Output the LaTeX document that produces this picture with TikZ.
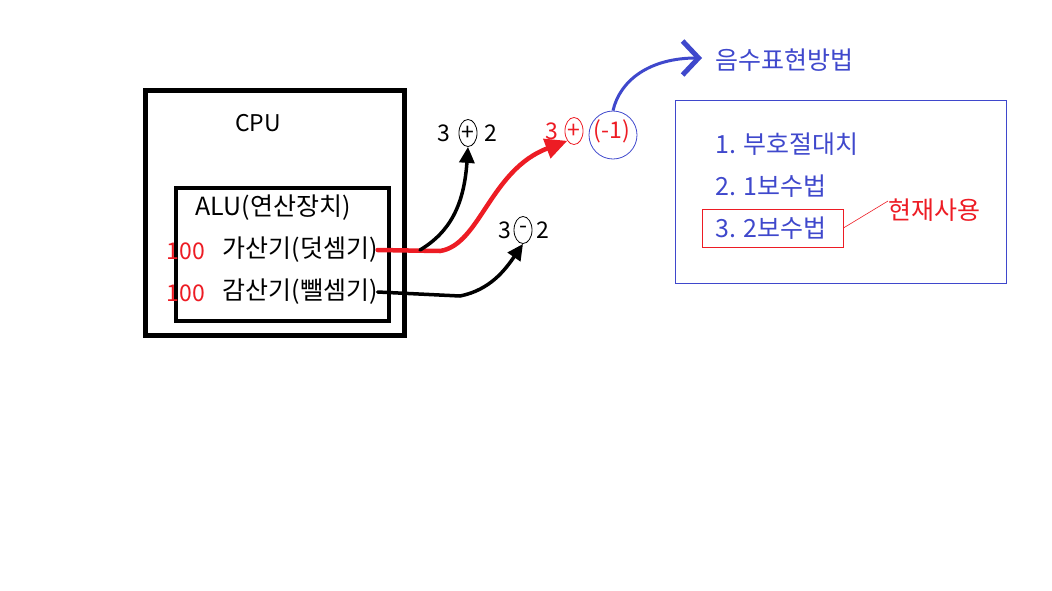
\documentclass[tikz,border=0pt]{standalone}
\usepackage{fontspec}
\setmainfont{Noto Sans CJK KR}
\usetikzlibrary{arrows.meta,shapes.geometric,positioning}
\definecolor{pred}{RGB}{237,28,36}
\definecolor{pblue}{RGB}{63,72,204}

\begin{document}
\begin{tikzpicture}[x=1pt,y=-1pt,
        txt/.style={font=\fontsize{23}{26}\selectfont, inner sep=0pt},
        kor/.style={font=\fontsize{25}{28}\selectfont, inner sep=0pt},
        opring/.style={draw, ellipse, minimum width=18pt, minimum height=27pt, inner sep=0pt, line width=0.8pt},
        hand/.style={line width=3.5pt, line cap=round, -{Triangle[length=16pt,width=15pt]}}]
        \useasboundingbox (0,0) rectangle (1052,590);
        % CPU and ALU
        \draw[line width=5pt] (145,90) rectangle (404,335);
        \draw[line width=4pt] (176,188) rectangle (389,321);
        \node[txt] (cpu) at (258,123) {CPU};
        \node[kor] (alu) at (273,208) {ALU(연산장치)};
        \node[txt, text=pred] (hundA) at (186,251) {100};
        \node[kor] (adder) at (300,250) {가산기(덧셈기)};
        \node[txt, text=pred] (hundB) at (186,293) {100};
        \node[kor] (suber) at (300,292) {감산기(뺄셈기)};
        % 3 + 2
        \node[txt] (threeA) at (444,133) {3};
        \node[txt, opring] (plusA) at (468,133) {+};
        \node[txt] (twoA) at (491,133) {2};
        % 3 - 2
        \node[txt] (threeB) at (505,230) {3};
        \node[txt, opring] (minus) at (523,230) {-};
        \node[txt] (twoB) at (543,230) {2};
        % 3 + (-1)
        \node[txt, text=pred] (threeC) at (552,131) {3};
        \node[txt, opring, draw=pred, text=pred] (plusC) at (574,131) {+};
        \node[txt, text=pred] (negone) at (612,131) {(-1)};
        \node[draw=pblue, circle, minimum size=48pt, line width=0.8pt] (ring) at (613,135) {};
        % negative numbers
        \node[kor, text=pblue, anchor=west] (title) at (715,60) {음수표현방법};
        \draw[pblue, line width=0.8pt] (675,100) rectangle (1006,283);
        \node[kor, text=pblue, anchor=west] (way1) at (715,144) {1. 부호절대치};
        \node[kor, text=pblue, anchor=west] (way2) at (715,186) {2. 1보수법};
        \node[kor, text=pblue, anchor=west] (way3) at (715,228) {3. 2보수법};
        \node[draw=pred, minimum width=141pt, minimum height=38pt, line width=0.8pt] (pick) at (772.5,228) {};
        \node[kor, text=pred, anchor=west] (inuse) at (888,210) {현재사용};
        \draw[pred, line width=0.6pt] (pick.east) -- ([yshift=9pt]inuse.west);
        % connectors
        \coordinate (fork) at (420,250);
        \draw[pred, line width=4.5pt, line cap=round, -{Triangle[length=22pt,width=20pt]}] (adder.east) -- (440,251)
             .. controls (480,245) and (490,170) .. (plusC.south west);
        \draw[hand] (fork) .. controls (450,232) and (464,205) .. (plusA.south);
        \draw[hand] (suber.east) -- (460,296) .. controls (490,290) and (505,270) .. (minus.south);
        \draw[pblue, line width=3pt, -{Straight Barb[length=16pt,width=34pt,line width=5pt]}]
             (ring.north) .. controls (620,80) and (650,58) .. (702,58);
\end{tikzpicture}
\end{document}
